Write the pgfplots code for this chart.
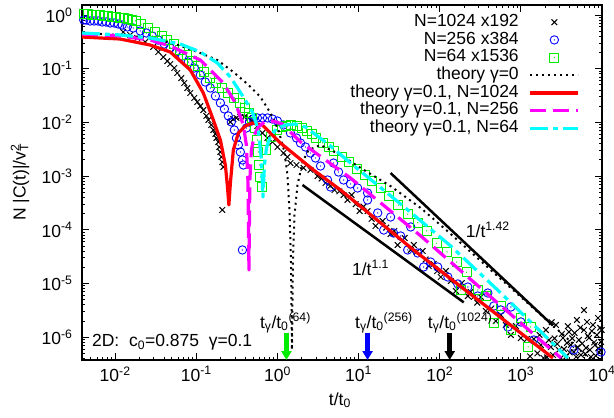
\documentclass[border=0pt]{standalone}
\usepackage{fontspec}
\setmainfont{Liberation Sans}
\usepackage{pgfplots}
\pgfplotsset{compat=1.18}
\usetikzlibrary{arrows.meta}
\newcommand\ff{\fontsize{17.5}{20}\selectfont}
\definecolor{gpred}{rgb}{1,0,0}
\definecolor{gpgreen}{rgb}{0,0.93,0}
\definecolor{gpblue}{rgb}{0,0,1}
\definecolor{gpmag}{rgb}{1,0,1}
\definecolor{gpcyan}{rgb}{0,1,1}

% open circle / square with a dot in the middle (gnuplot style)
\pgfdeclareplotmark{odot}{%
  \pgfpathcircle{\pgfpointorigin}{\pgfplotmarksize}\pgfusepathqstroke
  \pgfpathcircle{\pgfpointorigin}{0.7pt}\pgfusepathqfill}
\pgfdeclareplotmark{sdot}{%
  \pgfpathrectangle{\pgfqpoint{-\pgfplotmarksize}{-\pgfplotmarksize}}{\pgfqpoint{2\pgfplotmarksize}{2\pgfplotmarksize}}\pgfusepathqstroke
  \pgfpathcircle{\pgfpointorigin}{0.7pt}\pgfusepathqfill}

\begin{document}
\begin{tikzpicture}
\begin{axis}[
  at={(0pt,0pt)}, anchor=south west,
  width=520pt, height=355pt, scale only axis,
  xmode=log, ymode=log,
  xmin=0.0039, xmax=10000, ymin=3.76e-7, ymax=1.535,
  xtick={0.01,0.1,1,10,100,1000,10000},
  xticklabels={10\textsuperscript{-2},10\textsuperscript{-1},10\textsuperscript{0},10\textsuperscript{1},10\textsuperscript{2},10\textsuperscript{3},10\textsuperscript{4}},
  ytick={1e-6,1e-5,1e-4,1e-3,1e-2,1e-1,1},
  yticklabels={10\textsuperscript{-6},10\textsuperscript{-5},10\textsuperscript{-4},10\textsuperscript{-3},10\textsuperscript{-2},10\textsuperscript{-1},10\textsuperscript{0}},
  minor xtick={0.005,0.006,0.007,0.008,0.009,0.02,0.03,0.04,0.05,0.06,0.07,0.08,0.09,0.2,0.3,0.4,0.5,0.6,0.7,0.8,0.9,2,3,4,5,6,7,8,9,20,30,40,50,60,70,80,90,200,300,400,500,600,700,800,900,2000,3000,4000,5000,6000,7000,8000,9000},
  minor ytick={4e-7,5e-7,6e-7,7e-7,8e-7,9e-7,2e-6,3e-6,4e-6,5e-6,6e-6,7e-6,8e-6,9e-6,2e-5,3e-5,4e-5,5e-5,6e-5,7e-5,8e-5,9e-5,2e-4,3e-4,4e-4,5e-4,6e-4,7e-4,8e-4,9e-4,0.002,0.003,0.004,0.005,0.006,0.007,0.008,0.009,0.02,0.03,0.04,0.05,0.06,0.07,0.08,0.09,0.2,0.3,0.4,0.5,0.6,0.7,0.8,0.9},
  tick align=inside,
  major tick length=7pt, minor tick length=3.5pt,
  every tick/.append style={black, line width=0.9pt},
  axis line style={line width=1.2pt},
  tick label style={font=\ff},
  xticklabel style={yshift=-3pt},
  yticklabel style={xshift=-6pt},
  xlabel={t/t\textsubscript{0}},
  ylabel={N |C(t)|/v\rlap{\textsubscript{T}}\textsuperscript{2}},
  label style={font=\ff},
  xlabel style={at={(axis description cs:0.496,-0.113)}, anchor=center},
  ylabel style={at={(axis description cs:-0.119,0.5)}, anchor=center},
  legend plot pos=right,
  legend cell align=right,
  legend style={at={(rel axis cs:0.958,0.977)}, anchor=north east, draw=none, fill=none,
    font=\ff, column sep=8pt, inner sep=0pt,
    nodes={inner xsep=2pt, inner ysep=0.4pt, text height=12.6pt, text depth=4.3pt}},
  legend image code/.code={\draw[mark repeat=2,mark phase=2,#1] plot coordinates {(0pt,0pt) (24pt,0pt) (48pt,0pt)};},
  clip mode=individual,
  every axis plot/.append style={line join=round},
]

% ---- simulation data ----
\addplot[only marks, mark=x, mark size=4pt, black, line width=1pt] table {
x y
0.01256 0.482
0.0153 0.425
0.0187 0.373
0.0234 0.314
0.0294 0.254
0.0340 0.205
0.0392 0.165
0.0439 0.139
0.0477 0.122
0.0535 0.103
0.0582 0.0832
0.0653 0.0671
0.0711 0.0542
0.0775 0.0437
0.0843 0.0353
0.0944 0.0285
0.1028 0.0240
0.112 0.0202
0.122 0.0170
0.133 0.0132
0.141 0.0111
0.153 0.00895
0.162 0.00722
0.172 0.00608
0.177 0.00512
0.187 0.00432
0.192 0.00348
0.198 0.00281
0.204 0.00227
0.209 0.00183
0.2155 0.00148
0.209 2.34e-4
0.263 0.0102
0.286 0.01156
0.312 0.0121
0.349 0.0126
0.392 0.0126
0.4385 0.0121
0.491 0.0106
0.566 0.00857
0.653 0.00635
0.753 0.00512
0.868 0.00432
1.0 0.00348
1.186 0.00269
1.329 0.00227
1.445 0.00175
1.718 0.00161
2.094 0.00142
2.553 0.0013
3.117 0.0010
3.5 9.0e-4
3.915 7.44e-4
4.5 6.6e-4
5.05 5.51e-4
5.8 5.2e-4
6.53 4.45e-4
7.3 3.6e-4
8.20 4.45e-4
9.2 3.0e-4
10.3 2.24e-4
11.5 2.7e-4
12.9 2.24e-4
14.5 1.6e-4
16.2 1.18e-4
19.8 1.46e-4
22 1.1e-4
24.8 8.36e-5
27.5 9.5e-5
30.3 5.21e-5
37.0 7.03e-5
43.9 4.21e-5
48 5.2e-5
52.0 3.86e-5
61.7 4.03e-5
67 2.8e-5
73.1 2.12e-5
84.3 2.31e-5
93 1.7e-5
103 1.32e-5
119 1.71e-5
137 1.11e-5
158 7.24e-6
172 9.0e-6
187 1.02e-5
222 5.85e-6
240 7.0e-6
263 5.61e-6
290 4.4e-6
321 5.61e-6
370 3.08e-6
427 3.35e-6
491 2.0e-6
566 2.59e-6
653 1.69e-6
754 1.10e-6
867 1.62e-6
1000 9.66e-7
1186 9.25e-7
1300 4.4e-7
1445 9.25e-7
1600 5.0e-7
1700 1.1e-6
1766 7.16e-7
1900 4.1e-7
2037 1.36e-6
2100 4.2e-7
2218 8.87e-7
2345 6.58e-7
2400 1.9e-6
2483 4.67e-7
2600 9.5e-7
2704 1.69e-6
2800 7.5e-7
2944 5.78e-7
3119 4.1e-7
3200 1.15e-6
3303 9.66e-7
3400 6.0e-7
3597 4.28e-7
3700 7.8e-7
3800 1.6e-6
3917 1.25e-6
4000 5.2e-7
4144 7.16e-7
4300 9.5e-7
4508 5.30e-7
4600 1.2e-6
4800 4.3e-7
4909 2.09e-6
5000 6.5e-7
5200 8.87e-7
5400 1.5e-6
5508 4.67e-7
5700 7.6e-7
5998 1.36e-6
6000 3.2e-6
6200 4.9e-7
6345 6.30e-7
6531 1.92e-6
6700 1.05e-6
6918 9.66e-7
7100 5.8e-7
7311 4.28e-7
7500 1.3e-6
7745 1.69e-6
8000 8.0e-7
8200 7.16e-7
8400 4.5e-7
8670 1.10e-6
8930 2.28e-6
9000 6.2e-7
9190 5.30e-7
9500 1.5e-6
9730 8.15e-7
9900 1.36e-6
};
\addlegendentry{N=1024 x192}

\addplot[only marks, mark=odot, mark size=4.2pt, gpblue, line width=0.9pt] table {
x y
0.0041 0.807
0.00439 0.807
0.00491 0.773
0.00551 0.773
0.00617 0.773
0.00692 0.741
0.00774 0.741
0.00867 0.710
0.00972 0.710
0.0109 0.680
0.0122 0.651
0.0141 0.598
0.0167 0.573
0.0204 0.504
0.0242 0.462
0.0286 0.406
0.0340 0.342
0.0403 0.288
0.0477 0.243
0.0566 0.205
0.0671 0.172
0.0796 0.133
0.0944 0.103
0.112 0.0764
0.129 0.0565
0.149 0.0437
0.172 0.0310
0.198 0.0230
0.222 0.0178
0.248 0.0132
0.270 0.0102
0.294 0.00722
0.312 0.00512
0.330 0.00379
0.349 0.00281
0.370 0.00200
0.380 0.00161
0.370 4.21e-5
0.414 0.00787
0.451 0.0102
0.506 0.01156
0.566 0.0121
0.653 0.0121
0.753 0.0121
0.868 0.01156
1.0 0.0106
1.186 0.00895
1.445 0.00635
1.718 0.00512
1.923 0.00413
2.216 0.00348
2.553 0.00269
2.944 0.00217
3.396 0.00154
4.14 8.46e-4
4.51 6.27e-4
4.91 0.00175
5.66 0.00119
6.53 8.46e-4
7.96 7.13e-4
9.72 6.0e-4
12.9 4.84e-4
12.9 3.59e-4
17.2 2.06e-4
20.4 9.9e-5
24.8 1.73e-4
27.0 8.71e-5
33.0 7.67e-5
40.3 4.21e-5
43.9 1.13e-4
53.5 3.70e-5
63.4 2.03e-5
77.4 2.51e-5
94.4 2.03e-5
126 1.32e-5
167 9.8e-6
222 8.6e-6
294 5.85e-6
392 6.65e-6
464 3.81e-6
566 3.21e-6
692 1.55e-6
754 3.65e-6
1000 1.92e-6
1445 8.87e-7
4508 5.78e-7
9730 5.3e-7
};
\addlegendentry{N=256 x384}

\addplot[only marks, mark=sdot, mark size=4.5pt, gpgreen, line width=0.9pt] table {
x y
0.0041 1.047
0.00457 1.047
0.00513 1.0
0.00575 1.0
0.00646 1.0
0.00724 0.955
0.00813 0.955
0.00912 0.912
0.0102 0.912
0.0115 0.871
0.0129 0.871
0.0145 0.851
0.0162 0.813
0.0178 0.776
0.0209 0.676
0.0257 0.575
0.0309 0.479
0.0372 0.407
0.0437 0.339
0.0525 0.288
0.0631 0.224
0.0759 0.178
0.0891 0.138
0.106 0.112
0.1256 0.0868
0.149 0.0671
0.1766 0.0542
0.2094 0.0437
0.248 0.0353
0.294 0.0285
0.349 0.0230
0.403 0.0185
0.451 0.0150
0.491 0.0121
0.535 0.00787
0.566 0.0047
0.582 0.00281
0.600 0.00161
0.617 9.6e-4
0.653 6.27e-4
0.731 0.00309
0.820 0.00537
0.973 0.00724
1.122 0.00813
1.288 0.00851
1.479 0.00891
1.718 0.00851
1.977 0.00794
2.28 0.00692
2.63 0.00603
3.02 0.00513
3.60 0.00417
4.27 0.00347
5.01 0.00295
6.17 0.00229
7.53 0.00182
9.44 0.00135
11.9 0.00105
14.8 8.13e-4
18.6 6.03e-4
24.0 4.27e-4
30.9 2.88e-4
40.3 1.95e-4
53.7 1.35e-4
69.2 9.55e-5
91.2 5.62e-5
123 3.89e-5
162 2.51e-5
182 7.59e-6
214 1.62e-5
295 7.59e-6
372 5.89e-6
468 1.82e-6
562 3.80e-6
759 1.35e-6
1000 2.29e-6
1318 1.55e-6
1230 6.6e-7
};
\addlegendentry{N=64 x1536}

% ---- theory curves ----
\addplot[black, line width=2pt, dash pattern=on 2pt off 4pt] table {
x y
0.0039 0.462
0.0115 0.425
0.027 0.373
0.0551 0.288
0.112 0.196
0.1816 0.145
0.286 0.0868
0.4266 0.0519
0.617 0.0297
0.820 0.0150
1.029 0.00722
1.220 0.00281
1.329 0.00105
1.406 2.34e-4
1.468 2.74e-5
1.510 5.8e-7
1.553 2.74e-5
1.622 1.89e-4
1.766 6.8e-4
2.036 0.00183
2.414 0.00306
3.396 0.00379
5.99 0.00247
10.59 0.00142
24.8 6.5e-4
58.3 2.55e-4
136.7 8.36e-5
566 1.21e-5
2864 1.36e-6
7311 3.76e-7
};
\addlegendentry{theory γ=0}

\addplot[gpred, line width=3.2pt] table {
x y
0.0039 0.389
0.0115 0.357
0.027 0.276
0.0477 0.205
0.0843 0.0946
0.122 0.0353
0.162 0.0111
0.198 0.0047
0.228 0.00161
0.241 6.8e-4
0.252 2.9e-4
0.263 7.4e-4
0.286 0.00306
0.330 0.00635
0.403 0.00857
0.491 0.00975
0.653 0.00895
1.089 0.00413
2.78 0.0013
6.0 5.5e-4
47.7 4.2e-5
2483 4.1e-7
};
\addlegendentry{theory γ=0.1, N=1024}

\addplot[gpmag, line width=3.2pt, dash pattern=on 16pt off 7pt] table {
x y
0.0039 0.443
0.0115 0.407
0.027 0.342
0.0477 0.265
0.112 0.145
0.2155 0.0542
0.303 0.023
0.380 0.00895
0.414 0.00379
0.432 8.5e-4
0.445 1.78e-5
0.457 8.5e-4
0.4775 0.00306
0.520 0.00582
0.582 0.0082
0.692 0.0102
0.868 0.0106
1.153 0.00933
1.923 0.00432
7.96 9.2e-4
58.3 7.7e-5
426.6 5.6e-6
3119 4.1e-7
};
\addlegendentry{theory γ=0.1, N=256}

\addplot[gpcyan, line width=3.2pt, dash pattern=on 18pt off 5pt on 5pt off 5pt] table {
x y
0.0039 0.462
0.0115 0.425
0.027 0.373
0.0634 0.288
0.112 0.205
0.1816 0.128
0.263 0.070
0.380 0.0297
0.491 0.0156
0.582 0.00722
0.634 0.0020
0.662 4.08e-4
0.692 0.00161
0.732 0.00334
0.820 0.00558
0.972 0.00754
1.255 0.00895
1.668 0.00933
2.216 0.0082
4.51 0.00364
7.96 0.00175
33.0 3.02e-4
136.7 4.99e-5
566 6.65e-6
3802 4.1e-7
};
\addlegendentry{theory γ=0.1, N=64}

% power-law guides
\addplot[black, line width=2.5pt, forget plot] coordinates {(2.036,6.83e-4) (197.7,4.45e-6)};
\addplot[black, line width=2.5pt, forget plot] coordinates {(24.8,1.14e-3) (2483,1.65e-6)};

\node[anchor=base west, inner sep=0pt, font=\ff] at (rel axis cs:0.738,0.346) {1/t\textsuperscript{1.42}};
\node[anchor=base west, inner sep=0pt, font=\ff] at (rel axis cs:0.519,0.239) {1/t\textsuperscript{1.1}};
\node[anchor=base west, inner sep=0pt, font=\ff] at (rel axis cs:0.019,0.037) {2D:\ \ c\textsubscript{0}=0.875\ \ γ=0.1};

\node[anchor=base west, inner sep=0pt, font=\ff] at (rel axis cs:0.342,0.090) {t\textsubscript{γ}/t\textsubscript{0}\textsuperscript{(64)}};
\node[anchor=base west, inner sep=0pt, font=\ff] at (rel axis cs:0.525,0.090) {t\textsubscript{γ}/t\textsubscript{0}\textsuperscript{(256)}};
\node[anchor=base west, inner sep=0pt, font=\ff] at (rel axis cs:0.665,0.090) {t\textsubscript{γ}/t\textsubscript{0}\textsuperscript{(1024)}};

\draw[-{Triangle[length=9pt,width=10pt]}, line width=4.5pt, gpgreen] (axis cs:1.29,1.2e-6) -- (axis cs:1.29,3.76e-7);
\draw[-{Triangle[length=9pt,width=10pt]}, line width=4.5pt, gpblue] (axis cs:12.9,1.2e-6) -- (axis cs:12.9,3.76e-7);
\draw[-{Triangle[length=9pt,width=10pt]}, line width=4.5pt, black] (axis cs:132.8,1.2e-6) -- (axis cs:132.8,3.76e-7);

\end{axis}
\pgfresetboundingbox
\path (-82pt,-58pt) rectangle (532pt,360pt);
\end{tikzpicture}
\end{document}
